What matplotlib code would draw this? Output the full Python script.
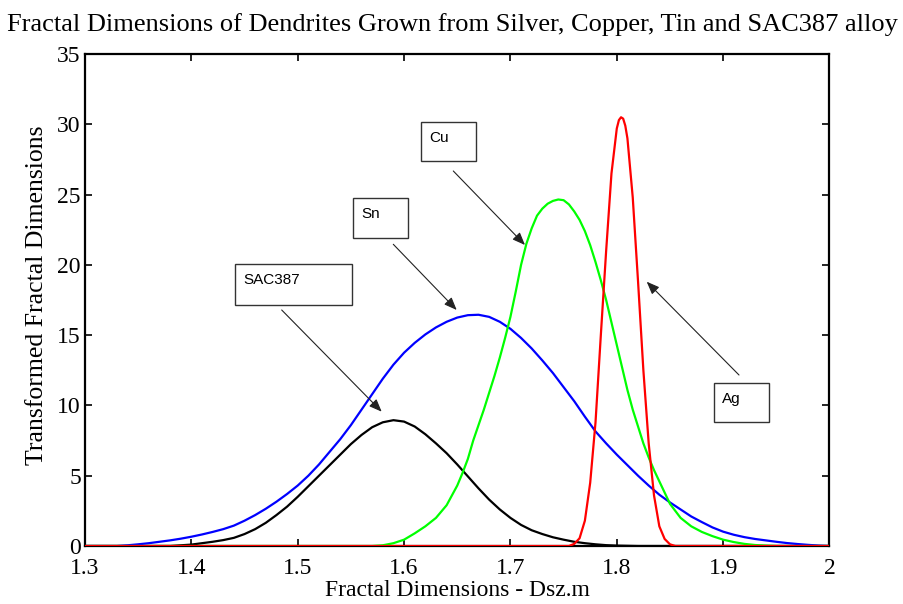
import matplotlib
matplotlib.use("Agg")
import matplotlib.pyplot as plt
from matplotlib.patches import Rectangle, FancyArrowPatch

# ---- data ----
sac_x = [1.30, 1.38, 1.40, 1.41, 1.42, 1.43, 1.44, 1.45, 1.46, 1.47, 1.48, 1.49, 1.50, 1.51,
         1.52, 1.53, 1.54, 1.55, 1.56, 1.57, 1.58, 1.59, 1.60, 1.61, 1.62, 1.63, 1.64, 1.65,
         1.66, 1.67, 1.68, 1.69, 1.70, 1.71, 1.72, 1.73, 1.74, 1.75, 1.76, 1.77, 1.78, 1.79,
         1.80, 1.82, 2.00]
sac_y = [0, 0, 0.1, 0.2, 0.3, 0.42, 0.58, 0.85, 1.2, 1.65, 2.2, 2.8, 3.5, 4.25,
         5.0, 5.75, 6.5, 7.25, 7.9, 8.45, 8.8, 8.95, 8.85, 8.5, 7.95, 7.3, 6.6, 5.8,
         4.95, 4.1, 3.3, 2.6, 2.0, 1.5, 1.12, 0.85, 0.62, 0.45, 0.3, 0.2, 0.12, 0.06,
         0.03, 0, 0]

sn_x = [1.30, 1.33, 1.34, 1.35, 1.36, 1.37, 1.38, 1.39, 1.40, 1.41, 1.42, 1.43, 1.44, 1.45,
        1.46, 1.47, 1.48, 1.49, 1.50, 1.51, 1.52, 1.53, 1.54, 1.55, 1.56, 1.57, 1.58, 1.59,
        1.60, 1.61, 1.62, 1.63, 1.64, 1.65, 1.66, 1.67, 1.68, 1.69, 1.70, 1.71, 1.72, 1.73,
        1.74, 1.75, 1.76, 1.77, 1.78, 1.79, 1.80, 1.81, 1.82, 1.83, 1.84, 1.85, 1.86, 1.87,
        1.88, 1.89, 1.90, 1.91, 1.92, 1.93, 1.94, 1.95, 1.96, 1.97, 1.98, 1.99, 2.00]
sn_y = [0, 0, 0.05, 0.12, 0.2, 0.3, 0.4, 0.52, 0.66, 0.82, 1.0, 1.2, 1.45, 1.8,
        2.2, 2.65, 3.15, 3.7, 4.3, 5.0, 5.8, 6.7, 7.6, 8.6, 9.7, 10.8, 11.9, 12.9,
        13.75, 14.45, 15.05, 15.55, 15.95, 16.25, 16.42, 16.45, 16.3, 15.95, 15.45, 14.8, 14.05, 13.2,
        12.3, 11.3, 10.3, 9.2, 8.15, 7.3, 6.5, 5.75, 5.0, 4.3, 3.65, 3.1, 2.6, 2.1,
        1.7, 1.32, 1.02, 0.8, 0.63, 0.5, 0.4, 0.3, 0.21, 0.14, 0.08, 0.03, 0]

cu_x = [1.30, 1.57, 1.58, 1.59, 1.60, 1.61, 1.62, 1.63, 1.64, 1.65, 1.655, 1.66, 1.665, 1.67,
        1.675, 1.68, 1.685, 1.69, 1.695, 1.70, 1.705, 1.71, 1.715, 1.72, 1.725, 1.73, 1.735,
        1.74, 1.745, 1.75, 1.755, 1.76, 1.765, 1.77, 1.775, 1.78, 1.785, 1.79, 1.795, 1.80,
        1.805, 1.81, 1.815, 1.82, 1.825, 1.83, 1.835, 1.84, 1.845, 1.85, 1.855, 1.86, 1.87,
        1.88, 1.89, 1.90, 1.91, 1.92, 1.93, 1.94, 1.95, 2.00]
cu_y = [0, 0, 0.05, 0.2, 0.45, 0.9, 1.4, 2.0, 2.9, 4.3, 5.2, 6.2, 7.5, 8.6,
        9.7, 10.9, 12.1, 13.4, 14.8, 16.3, 18.1, 20.0, 21.5, 22.6, 23.5, 24.0, 24.35,
        24.55, 24.65, 24.6, 24.3, 23.8, 23.2, 22.4, 21.4, 20.2, 18.9, 17.5, 15.9, 14.3,
        12.7, 11.1, 9.7, 8.5, 7.3, 6.3, 5.4, 4.6, 3.8, 3.0, 2.5, 2.0, 1.4,
        1.0, 0.7, 0.45, 0.28, 0.15, 0.07, 0.03, 0, 0]

ag_x = [1.30, 1.755, 1.76, 1.765, 1.77, 1.775, 1.78, 1.785, 1.79, 1.795, 1.80, 1.802, 1.804,
        1.806, 1.808, 1.81, 1.815, 1.82, 1.825, 1.83, 1.835, 1.84, 1.845, 1.85, 1.855, 2.00]
ag_y = [0, 0, 0.15, 0.55, 1.8, 4.5, 8.8, 15.0, 21.0, 26.5, 29.7, 30.3, 30.5,
        30.4, 29.9, 29.0, 24.8, 18.8, 12.5, 7.3, 3.6, 1.4, 0.5, 0.12, 0, 0]

x_ticks = [1.3, 1.4, 1.5, 1.6, 1.7, 1.8, 1.9, 2.0]
x_tick_labels = ["1.3", "1.4", "1.5", "1.6", "1.7", "1.8", "1.9", "2"]
y_ticks = [0, 5, 10, 15, 20, 25, 30, 35]

labels = ["SAC387", "Sn", "Cu", "Ag"]

# ---- figure ----
W, H = 904, 604
fig = plt.figure(figsize=(W / 100, H / 100), dpi=100)
L, R, T, B = 85, 829.5, 54, 546
ax = fig.add_axes([L / W, 1 - B / H, (R - L) / W, (B - T) / H])

serif = ["Liberation Serif", "DejaVu Serif"]
sans = ["Liberation Sans", "DejaVu Sans"]

lw = 1.6
ax.plot(sac_x, sac_y, color="black", lw=lw, zorder=2)
ax.plot(sn_x, sn_y, color="#0000ff", lw=lw, zorder=3)
ax.plot(cu_x, cu_y, color="#00ff00", lw=lw, zorder=4)
ax.plot(ag_x, ag_y, color="#ff0000", lw=lw, zorder=5)

ax.set_xlim(1.3, 2.0)
ax.set_ylim(0, 35)
ax.set_xticks(x_ticks)
ax.set_xticklabels(x_tick_labels)
ax.set_yticks(y_ticks)
ax.tick_params(direction="in", length=5, width=1.2, top=True, right=True, labelsize=17)
ax.tick_params(axis="x", pad=8.4)
ax.tick_params(axis="y", pad=3)
for lab in ax.get_xticklabels() + ax.get_yticklabels():
    lab.set_family(serif)
for s in ax.spines.values():
    s.set_linewidth(1.6)

ax.set_xlabel("Fractal Dimensions - Dsz.m", fontsize=17, family=serif)
ax.set_ylabel("Transformed Fractal Dimensions", fontsize=18.5, family=serif)
ax.xaxis.set_label_coords(0.5, -0.069)
ax.yaxis.set_label_coords(-0.05, 0.51)
fig.text(0.5, 1 - 25 / H, "Fractal Dimensions of Dendrites Grown from Silver, Copper, Tin and SAC387 alloy",
         ha="center", va="center", fontsize=19, family=serif)


def ff(px, py):
    return (px / W, 1 - py / H)


# annotation boxes: (label, box x0, y0, x1, y1, arrow tail px, arrow tip px)
boxes = [
    (labels[0], 235, 264, 351.7, 305, (281.7, 310), (381.7, 411.7)),
    (labels[1], 353.3, 198.3, 408.3, 237.7, (393.3, 244.3), (456.7, 310)),
    (labels[2], 421, 122.3, 475.7, 161, (453.3, 171), (525, 245)),
    (labels[3], 714.3, 383.3, 769, 421.7, (739, 375), (646.7, 281.7)),
]
for text, x0, y0, x1, y1, tail, tip in boxes:
    fx0, fy1 = ff(x0, y1)
    fig.add_artist(Rectangle((fx0, fy1), (x1 - x0) / W, (y1 - y0) / H,
                             transform=fig.transFigure, fill=True, facecolor="white",
                             edgecolor="#333333", lw=1.0, zorder=10))
    tx, ty = ff(x0 + 8, y0 + 16)
    fig.text(tx, ty, text, ha="left", va="center", fontsize=11, family=sans, zorder=11)
    fig.add_artist(FancyArrowPatch(
        ff(*tail), ff(*tip), transform=fig.transFigure,
        arrowstyle="-|>,head_length=0.55,head_width=0.22", mutation_scale=14,
        color="#222222", lw=0.8, shrinkA=0, shrinkB=0, zorder=9))

fig.savefig("out.png", dpi=100)
